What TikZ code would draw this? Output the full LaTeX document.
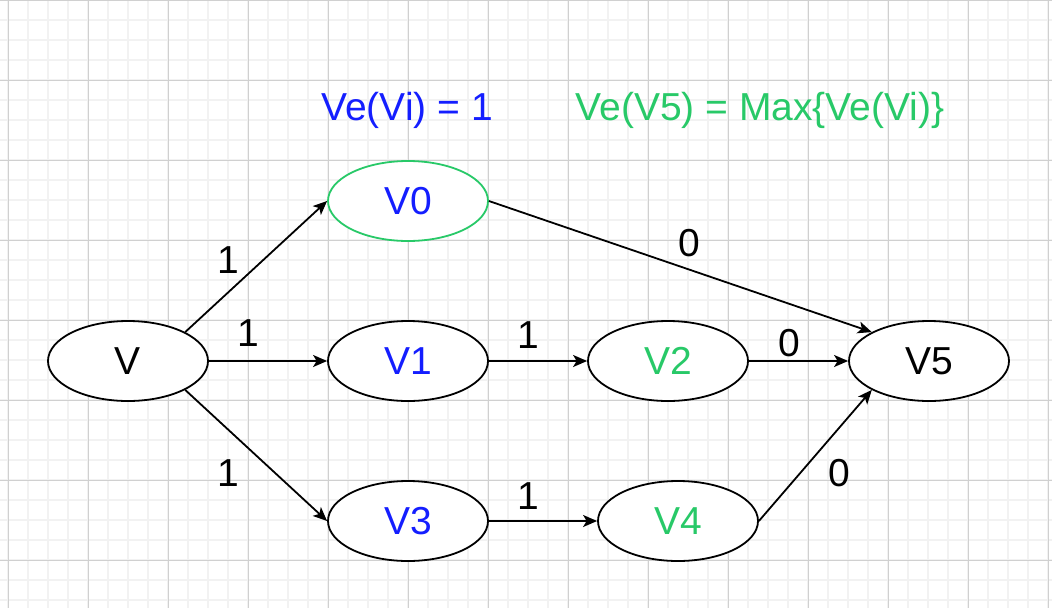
\documentclass[tikz,border=0pt]{standalone}
\usepackage{fontspec}
\setmainfont{Liberation Sans}
\usetikzlibrary{shapes.geometric,arrows.meta}
\definecolor{gmajor}{RGB}{208,208,208}
\definecolor{gminor}{RGB}{242,242,242}
\definecolor{vblue}{RGB}{20,30,255}
\definecolor{vgreen}{RGB}{40,201,104}
\tikzset{
  vert/.style={ellipse,draw=black,line width=1.8pt,fill=white,minimum width=160pt,minimum height=80pt,inner sep=0pt,font=\fontsize{39}{42}\selectfont},
  conn/.style={line width=1.8pt,-{Stealth[length=14pt,width=12pt,inset=3.5pt]}},
  lbl/.style={font=\fontsize{39}{42}\selectfont,inner sep=0pt},
  title/.style={font=\fontsize{39}{42}\selectfont,inner sep=0pt}
}
\begin{document}
\begin{tikzpicture}[x=1pt,y=-1pt]
\useasboundingbox (0,0) rectangle (1052,608);
\fill[white] (0,0) rectangle (1052,608);
% minor grid
\foreach \x in {8,28,...,1052} \draw[gminor,line width=1.5pt] (\x,0) -- (\x,608);
\foreach \y in {0,20,...,608} \draw[gminor,line width=1.5pt] (0,\y) -- (1052,\y);
% major grid
\foreach \x in {8,88,...,1052} \draw[gmajor,line width=1pt] (\x,0) -- (\x,608);
\foreach \y in {0,80,...,608} \draw[gmajor,line width=1pt] (0,\y) -- (1052,\y);

\node[title,text=vblue] (t1) at (407,110) {Ve(Vi) = 1};
\node[title,text=vgreen] (t2) at (760,110) {Ve(V5) = Max\{Ve(Vi)\}};

\node[vert] (V) at (128,361) {V};
\node[vert,draw=vgreen,text=vblue] (V0) at (408,201) {V0};
\node[vert,text=vblue] (V1) at (408,361) {V1};
\node[vert,text=vgreen] (V2) at (668,361) {V2};
\node[vert,text=vblue] (V3) at (408,521) {V3};
\node[vert,text=vgreen] (V4) at (678,521) {V4};
\node[vert] (V5) at (929,361) {V5};

\draw[conn] (V.north east) -- (V0.west);
\draw[conn] (V.east) -- (V1.west);
\draw[conn] (V.south east) -- (V3.west);
\draw[conn] (V0.east) -- (V5.north west);
\draw[conn] (V1.east) -- (V2.west);
\draw[conn] (V2.east) -- (V5.west);
\draw[conn] (V3.east) -- (V4.west);
\draw[conn] (V4.east) -- (V5.south west);

\node[lbl] (l1) at (228,260) {1};
\node[lbl] (l2) at (248,333) {1};
\node[lbl] (l3) at (228,473) {1};
\node[lbl] (l4) at (528,335) {1};
\node[lbl] (l5) at (689,243) {0};
\node[lbl] (l6) at (789,343) {0};
\node[lbl] (l7) at (528,496) {1};
\node[lbl] (l8) at (839,473) {0};
\end{tikzpicture}
\end{document}
